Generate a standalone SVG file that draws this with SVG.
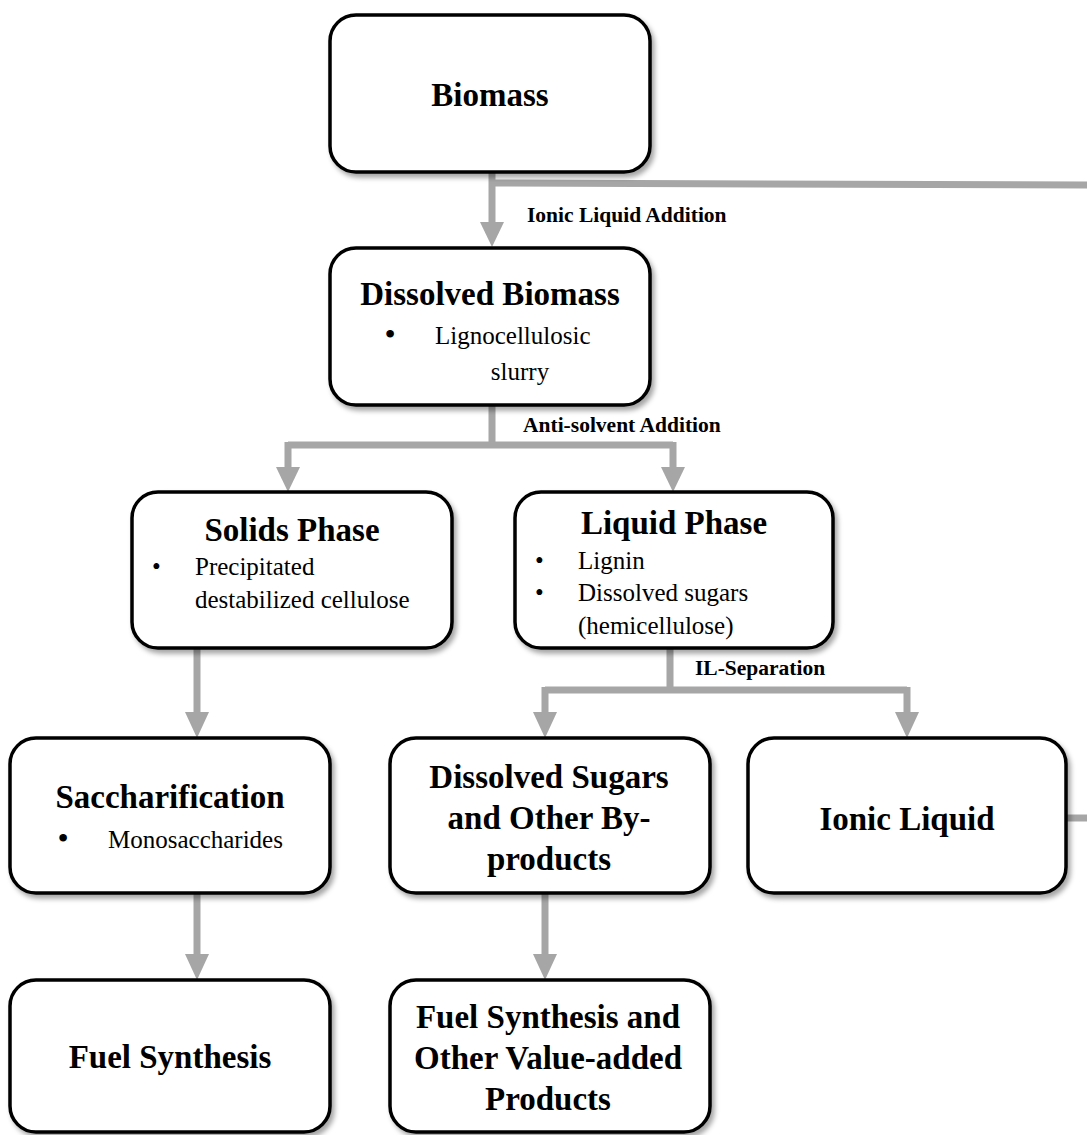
<svg xmlns="http://www.w3.org/2000/svg" width="1087" height="1135" viewBox="0 0 1087 1135">
<style>
.box{fill:#fff;stroke:#000;stroke-width:3.5;filter:url(#sh)}
.t{font-family:"Liberation Serif","Times New Roman",serif;font-weight:bold;font-size:33px;fill:#000;text-anchor:middle}
.b{font-family:"Liberation Serif","Times New Roman",serif;font-size:25px;fill:#000}
.d{font-family:"Liberation Serif","Times New Roman",serif;font-size:32px;fill:#000;text-anchor:middle}
.l{font-family:"Liberation Serif","Times New Roman",serif;font-weight:bold;font-size:21.5px;fill:#000}
.c{fill:none;stroke:#a6a6a6;stroke-width:7}
.ah{fill:#a6a6a6}
</style>
<defs>
<filter id="sh" x="-10%" y="-10%" width="125%" height="130%">
<feDropShadow dx="3" dy="4" stdDeviation="2.5" flood-color="#000" flood-opacity="0.35"/>
</filter>
</defs>
<g id="connectors">
<path class="c" d="M492,172 V225"/>
<polygon class="ah" points="480,222 504,222 492,247"/>
<path class="c" d="M492,183 L1087,185"/>
<path class="c" d="M492,405 V445 M288,445 H673 M288,442 V470 M673,442 V470"/>
<polygon class="ah" points="276,467 300,467 288,492"/>
<polygon class="ah" points="661,467 685,467 673,492"/>
<path class="c" d="M197,648 V715"/>
<polygon class="ah" points="185,712 209,712 197,738"/>
<path class="c" d="M670,648 V690 M545,690 H907 M545,687 V715 M907,687 V715"/>
<polygon class="ah" points="533,712 557,712 545,738"/>
<polygon class="ah" points="895,712 919,712 907,738"/>
<path class="c" d="M197,893 V957"/>
<polygon class="ah" points="185,954 209,954 197,980"/>
<path class="c" d="M545,893 V957"/>
<polygon class="ah" points="533,954 557,954 545,980"/>
<path class="c" d="M1066,818 H1087"/>
<text class="l" x="527" y="222">Ionic Liquid Addition</text>
<text class="l" x="523" y="432">Anti-solvent Addition</text>
<text class="l" x="695" y="675">IL-Separation</text>
</g>
<g id="biomass">
<rect class="box" x="330" y="15" width="320" height="157" rx="26"/>
<text class="t" x="490" y="106">Biomass</text>
</g>
<g id="dissolved-biomass">
<rect class="box" x="330" y="248" width="320" height="157" rx="26"/>
<text class="t" x="490" y="305">Dissolved Biomass</text>
<text class="d" x="390" y="345">•</text>
<text class="b" x="435" y="344">Lignocellulosic</text>
<text class="b" x="520" y="380" text-anchor="middle">slurry</text>
</g>
<g id="solids-phase">
<rect class="box" x="132" y="492" width="320" height="156" rx="26"/>
<text class="t" x="292" y="541">Solids Phase</text>
<text class="b" x="152" y="575">•</text>
<text class="b" x="195" y="575">Precipitated</text>
<text class="b" x="195" y="608">destabilized cellulose</text>
</g>
<g id="liquid-phase">
<rect class="box" x="515" y="492" width="318" height="156" rx="26"/>
<text class="t" x="674" y="534">Liquid Phase</text>
<text class="b" x="535" y="569">•</text>
<text class="b" x="578" y="569">Lignin</text>
<text class="b" x="535" y="601">•</text>
<text class="b" x="578" y="601">Dissolved sugars</text>
<text class="b" x="578" y="634">(hemicellulose)</text>
</g>
<g id="saccharification">
<rect class="box" x="10" y="738" width="320" height="155" rx="26"/>
<text class="t" x="170" y="808">Saccharification</text>
<text class="d" x="63" y="849">•</text>
<text class="b" x="108" y="848">Monosaccharides</text>
</g>
<g id="dissolved-sugars">
<rect class="box" x="390" y="738" width="320" height="155" rx="26"/>
<text class="t" x="549" y="788">Dissolved Sugars</text>
<text class="t" x="549" y="829">and Other By-</text>
<text class="t" x="549" y="870">products</text>
</g>
<g id="ionic-liquid">
<rect class="box" x="748" y="738" width="318" height="155" rx="26"/>
<text class="t" x="907" y="830">Ionic Liquid</text>
</g>
<g id="fuel-synthesis">
<rect class="box" x="10" y="980" width="320" height="152" rx="26"/>
<text class="t" x="170" y="1068">Fuel Synthesis</text>
</g>
<g id="fuel-synthesis-other">
<rect class="box" x="390" y="980" width="320" height="152" rx="26"/>
<text class="t" x="548" y="1028">Fuel Synthesis and</text>
<text class="t" x="548" y="1069">Other Value-added</text>
<text class="t" x="548" y="1110">Products</text>
</g>
</svg>
